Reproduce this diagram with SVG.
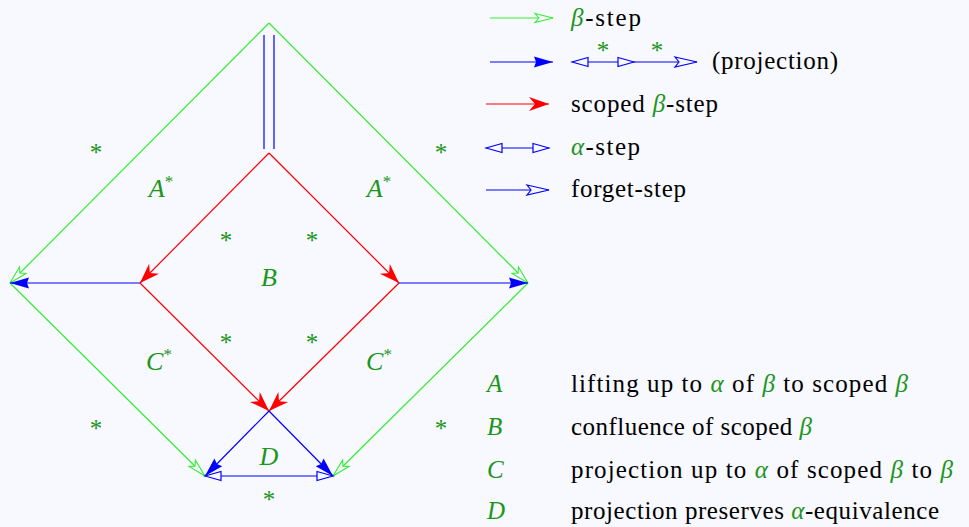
<svg xmlns="http://www.w3.org/2000/svg" width="969" height="527" viewBox="0 0 969 527">
<style>
text{font-family:'Liberation Serif','DejaVu Serif',serif;font-size:25px;fill:#000}
.g{fill:#1a961a;font-style:italic}
.st{fill:#1a961a;font-size:25px;text-anchor:middle}
.lab{fill:#1a961a;font-style:italic;text-anchor:middle;font-size:26px}
.sup{font-size:17px;font-style:normal}
.gl{stroke:#33ee33;stroke-width:1.2;fill:none}
.bl{stroke:#0000ff;stroke-width:1.2;fill:none}
.rl{stroke:#ff0000;stroke-width:1.2;fill:none}
</style>
<defs>
<marker id="gdart" markerUnits="userSpaceOnUse" viewBox="-21 -7 23 14" refX="0" refY="0" markerWidth="23" markerHeight="14" orient="auto">
<path d="M-18,-4.5 L0,0 L-18,4.5 L-14,0 Z" fill="#f8f8ff" stroke="#33ee33" stroke-width="1.1"/>
</marker>
<marker id="bfill" markerUnits="userSpaceOnUse" viewBox="-21 -7 23 14" refX="0" refY="0" markerWidth="23" markerHeight="14" orient="auto">
<path d="M-19,-5.5 L0,0 L-19,5.5 L-17,0 Z" fill="#0000ff"/>
</marker>
<marker id="rst" markerUnits="userSpaceOnUse" viewBox="-22 -9 24 18" refX="0" refY="0" markerWidth="24" markerHeight="18" orient="auto">
<path d="M-20,-7 L0,0 L-20,7 L-14,0 Z" fill="#ff0000"/>
</marker>
<marker id="otri" markerUnits="userSpaceOnUse" viewBox="-19 -6 21 12" refX="0" refY="0" markerWidth="21" markerHeight="12" orient="auto-start-reverse">
<path d="M-16,-4.5 L0,0 L-16,4.5 Z" fill="#f8f8ff" stroke="#0000ff" stroke-width="1.2"/>
</marker>
<marker id="bdart" markerUnits="userSpaceOnUse" viewBox="-25 -7 27 14" refX="0" refY="0" markerWidth="27" markerHeight="14" orient="auto">
<path d="M-22,-5 L0,0 L-22,5 L-18,0 Z" fill="#f8f8ff" stroke="#0000ff" stroke-width="1.2"/>
</marker>
</defs>
<rect width="969" height="527" fill="#f8f8ff"/>

<g id="connectors">
<path class="gl" d="M269,23 L10,283" marker-end="url(#gdart)"/>
<path class="gl" d="M269,23 L528,283" marker-end="url(#gdart)"/>
<path class="gl" d="M10,283 L205,476" marker-end="url(#gdart)"/>
<path class="gl" d="M528,283 L333,476" marker-end="url(#gdart)"/>
<path class="bl" d="M264,35 V149 M274,35 V149"/>
<path class="rl" d="M269,153 L140,283" marker-end="url(#rst)"/>
<path class="rl" d="M269,153 L399,283" marker-end="url(#rst)"/>
<path class="rl" d="M140,283 L269,411" marker-end="url(#rst)"/>
<path class="rl" d="M399,283 L269,411" marker-end="url(#rst)"/>
<path class="bl" d="M140,283 H10" marker-end="url(#bfill)"/>
<path class="bl" d="M399,283 H528" marker-end="url(#bfill)"/>
<path class="bl" d="M269,411 L205,476" marker-end="url(#bfill)"/>
<path class="bl" d="M269,411 L333,476" marker-end="url(#bfill)"/>
<path class="bl" d="M205,476 H333" marker-start="url(#otri)" marker-end="url(#otri)"/>
</g>

<g id="labels">
<text class="st" x="96" y="161">*</text>
<text class="st" x="441" y="161">*</text>
<text class="st" x="226" y="249">*</text>
<text class="st" x="312" y="249">*</text>
<text class="st" x="226" y="351">*</text>
<text class="st" x="312" y="351">*</text>
<text class="st" x="96" y="437">*</text>
<text class="st" x="441" y="437">*</text>
<text class="st" x="269" y="508">*</text>
<text class="lab" x="161" y="197">A<tspan class="sup" dy="-10">*</tspan></text>
<text class="lab" x="379" y="197">A<tspan class="sup" dy="-10">*</tspan></text>
<text class="lab" x="269" y="286">B</text>
<text class="lab" x="159" y="370">C<tspan class="sup" dy="-10">*</tspan></text>
<text class="lab" x="379" y="370">C<tspan class="sup" dy="-10">*</tspan></text>
<text class="lab" x="269" y="465">D</text>
</g>

<g id="legend">
<path class="gl" d="M490,18 H553" marker-end="url(#gdart)"/>
<text x="571" y="26" textLength="70"><tspan class="g">β</tspan>-step</text>
<path class="bl" d="M490,62 H553" marker-end="url(#bfill)"/>
<path class="bl" d="M572,62 H634" marker-start="url(#otri)" marker-end="url(#otri)"/>
<path class="bl" d="M634,62 H697" marker-end="url(#bdart)"/>
<text class="st" x="603" y="59">*</text>
<text class="st" x="657" y="59">*</text>
<text x="712" y="69" textLength="126">(projection)</text>
<path class="rl" d="M486,104 H549" marker-end="url(#rst)"/>
<text x="571" y="112" textLength="147">scoped <tspan class="g">β</tspan>-step</text>
<path class="bl" d="M486,148 H549" marker-start="url(#otri)" marker-end="url(#otri)"/>
<text x="571" y="155" textLength="69"><tspan class="g">α</tspan>-step</text>
<path class="bl" d="M486,190 H549" marker-end="url(#bdart)"/>
<text x="571" y="197" textLength="115">forget-step</text>

<text class="g" x="487" y="392">A</text>
<text x="571" y="392" textLength="337">lifting up to <tspan class="g">α</tspan> of <tspan class="g">β</tspan> to scoped <tspan class="g">β</tspan></text>
<text class="g" x="487" y="435">B</text>
<text x="571" y="435" textLength="241">confluence of scoped <tspan class="g">β</tspan></text>
<text class="g" x="487" y="478">C</text>
<text x="571" y="478" textLength="382">projection up to <tspan class="g">α</tspan> of scoped <tspan class="g">β</tspan> to <tspan class="g">β</tspan></text>
<text class="g" x="487" y="519">D</text>
<text x="571" y="519" textLength="368">projection preserves <tspan class="g">α</tspan>-equivalence</text>
</g>
</svg>
